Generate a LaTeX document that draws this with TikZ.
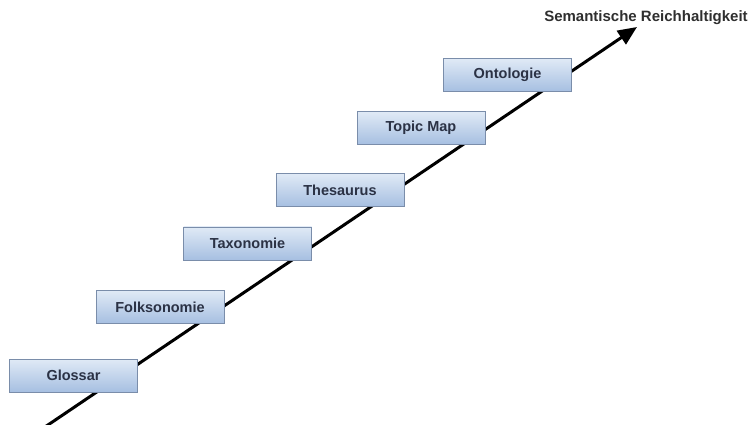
\documentclass[tikz,border=0pt]{standalone}
\usepackage{fontspec}
\setmainfont{Liberation Sans}
\usetikzlibrary{arrows.meta}
\definecolor{boxtop}{HTML}{E0EAF6}
\definecolor{boxbot}{HTML}{A6BFE1}
\definecolor{boxline}{HTML}{7A8DAA}
\definecolor{boxtext}{HTML}{2B3245}
\definecolor{labeltext}{HTML}{2F2F2F}
\tikzset{
  stage/.style={draw=boxline, line width=0.9pt, top color=boxtop, bottom color=boxbot,
    minimum width=128pt, minimum height=33pt, inner sep=0pt,
    font=\bfseries\fontsize{14.5}{17}\selectfont, text=boxtext},
  axis/.style={line width=3pt, -{Triangle[length=19pt,width=16pt]}},
  axislabel/.style={font=\bfseries\fontsize{15}{18}\selectfont, text=labeltext, inner sep=0pt}
}
\begin{document}
\begin{tikzpicture}[x=1pt,y=-1pt]
  \useasboundingbox (0,0) rectangle (753,425);
  % rising axis behind the stages
  \coordinate (start) at (42,429);
  \coordinate (tip) at (637,27);
  \draw[axis] (start) -- (tip);
  \node[axislabel] (lbl) at (646,18) {Semantische Reichhaltigkeit};
  % stages
  \node[stage] (glossar) at (73.5,375.5) {Glossar};
  \node[stage] (folk) at (160,307) {Folksonomie};
  \node[stage] (taxo) at (247.5,243.5) {Taxonomie};
  \node[stage] (thes) at (340,190) {Thesaurus};
  \node[stage] (topic) at (421,128) {Topic Map};
  \node[stage] (onto) at (507.5,75) {Ontologie};
\end{tikzpicture}
\end{document}
